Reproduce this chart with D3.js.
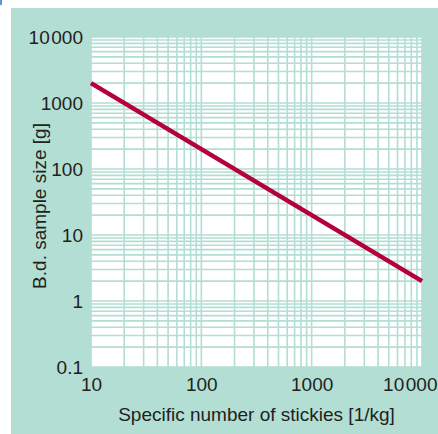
<!DOCTYPE html>
<html>
<head>
<meta charset="utf-8">
<script src="https://cdn.jsdelivr.net/npm/d3@7"></script>
<style>
  html, body { margin: 0; padding: 0; background: #ffffff; }
  svg { display: block; }
  text { font-family: "Liberation Sans", Arial, sans-serif; fill: #231f20; }
</style>
</head>
<body>
<svg id="chart" width="438" height="434"></svg>
<script>
// ---- data ----
const xDomain = [10, 10000];
const yDomain = [0.1, 10000];
const xTickValues = [10, 100, 1000, 10000];
const xTickLabels = ["10", "100", "1000", "10\u200A000"];
const yTickValues = [0.1, 1, 10, 100, 1000, 10000];
const yTickLabels = ["0.1", "1", "10", "100", "1000", "10\u200A000"];
const lineX = [10, 10000];
const lineY = [2000, 2];
const xTitle = "Specific number of stickies [1/kg]";
const yTitle = "B.d. sample size [g]";

// ---- layout ----
const W = 438, H = 434;
const plot = { left: 91, right: 422, top: 37, bottom: 367 };
const teal = "#b2ded4";

const svg = d3.select("#chart");

// panel background
svg.append("rect").attr("x", 11).attr("y", 8).attr("width", W - 11).attr("height", H - 8).attr("fill", teal);
// tiny corner mark
svg.append("rect").attr("x", 0).attr("y", 0).attr("width", 2).attr("height", 5).attr("fill", "#5b9bd5");

const x = d3.scaleLog().domain(xDomain).range([plot.left, plot.right]);
const y = d3.scaleLog().domain(yDomain).range([plot.bottom, plot.top]);

// plot area
svg.append("rect")
  .attr("x", plot.left).attr("y", plot.top)
  .attr("width", plot.right - plot.left).attr("height", plot.bottom - plot.top)
  .attr("fill", "#ffffff");

// grid values: 1..9 per decade
function gridVals(domain) {
  const vals = [];
  const lo = Math.round(Math.log10(domain[0])), hi = Math.round(Math.log10(domain[1]));
  for (let e = lo; e < hi; e++) {
    for (let m = 1; m <= 9; m++) vals.push(m * Math.pow(10, e));
  }
  vals.push(Math.pow(10, hi));
  return vals;
}

const grid = svg.append("g").attr("stroke", teal).attr("stroke-width", 1.6);
grid.selectAll("line.v").data(gridVals(xDomain)).join("line")
  .attr("class", "v")
  .attr("x1", d => x(d)).attr("x2", d => x(d))
  .attr("y1", plot.top).attr("y2", plot.bottom);
grid.selectAll("line.h").data(gridVals(yDomain)).join("line")
  .attr("class", "h")
  .attr("y1", d => y(d)).attr("y2", d => y(d))
  .attr("x1", plot.left).attr("x2", plot.right);

// data line
const pts = lineX.map((v, i) => [v, lineY[i]]);
svg.append("path")
  .datum(pts)
  .attr("d", d3.line().x(d => x(d[0])).y(d => y(d[1])))
  .attr("fill", "none")
  .attr("stroke", "#b4003c")
  .attr("stroke-width", 4.6)
  .attr("stroke-linecap", "butt");

// axes (labels only)
const yAxis = d3.axisLeft(y).tickValues(yTickValues)
  .tickFormat((d, i) => yTickLabels[i]).tickSize(0).tickPadding(8);
const gy = svg.append("g").attr("transform", `translate(${plot.left},0)`).call(yAxis);
gy.select(".domain").remove();
gy.selectAll("text").attr("font-size", 19).attr("fill", "#231f20")
  .style("font-family", '"Liberation Sans", Arial, sans-serif');

const xAxis = d3.axisBottom(x).tickValues(xTickValues)
  .tickFormat((d, i) => xTickLabels[i]).tickSize(0).tickPadding(11);
const gx = svg.append("g").attr("transform", `translate(0,${plot.bottom})`).call(xAxis);
gx.select(".domain").remove();
gx.selectAll("text").attr("font-size", 19).attr("fill", "#231f20")
  .style("font-family", '"Liberation Sans", Arial, sans-serif');
// last label pulled in so it stays inside the picture
gx.selectAll("text").filter((d, i) => i === xTickValues.length - 1)
  .attr("text-anchor", "end")
  .attr("x", W - 1 - x(xTickValues[xTickValues.length - 1]));

// titles
svg.append("text")
  .attr("x", (plot.left + plot.right) / 2).attr("y", 421)
  .attr("text-anchor", "middle").attr("font-size", 19)
  .text(xTitle);

svg.append("text")
  .attr("transform", `translate(46,${(plot.top + plot.bottom) / 2 + 4}) rotate(-90)`)
  .attr("text-anchor", "middle").attr("font-size", 19)
  .text(yTitle);
</script>
</body>
</html>
